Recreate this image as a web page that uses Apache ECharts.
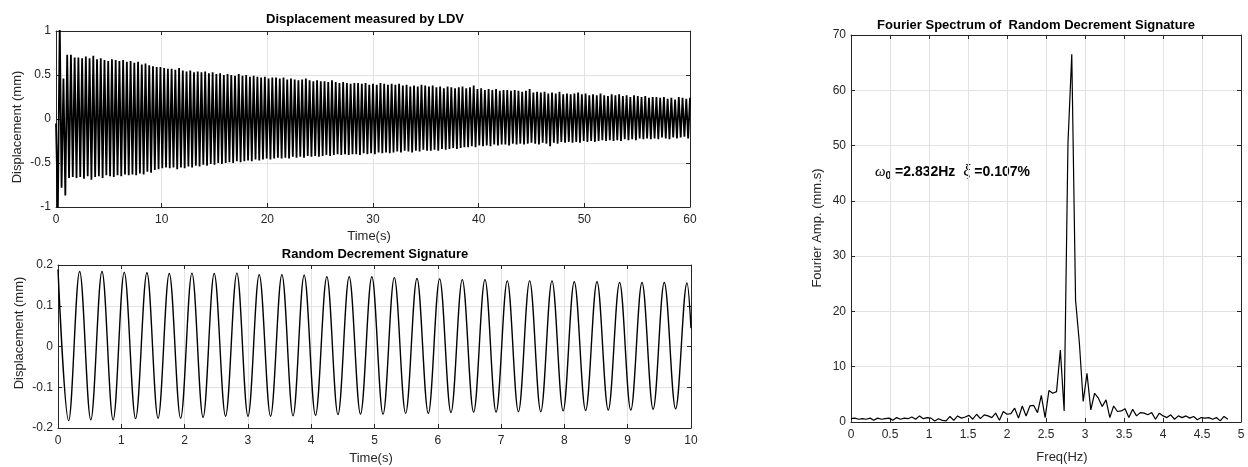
<!DOCTYPE html>
<html><head><meta charset="utf-8">
<script src="https://cdn.jsdelivr.net/npm/echarts@6/dist/echarts.min.js"></script>
<style>html,body{margin:0;padding:0;background:#fff}#c{width:1248px;height:467px}</style>
</head><body><div id="c"></div><script>
// ---------- DATA ----------
// Displacement measured by LDV: per-cycle extrema (peak / trough), 170 cycles over 60 s
const ldvDuration = 60;
const ldvStart = -0.05;
const ldvPeaks = [
  1.10, 0.46, 0.73, 0.73, 0.70, 0.70, 0.69, 0.71, 0.69, 0.72,
  0.68, 0.69, 0.67, 0.66, 0.68, 0.67, 0.66, 0.67, 0.65, 0.66,
  0.64, 0.65, 0.62, 0.63, 0.61, 0.60, 0.59, 0.59, 0.58, 0.57,
  0.57, 0.56, 0.58, 0.55, 0.54, 0.55, 0.53, 0.54, 0.53, 0.54,
  0.52, 0.53, 0.51, 0.52, 0.50, 0.51, 0.50, 0.49, 0.51, 0.49,
  0.50, 0.48, 0.49, 0.48, 0.47, 0.48, 0.46, 0.47, 0.47, 0.46,
  0.47, 0.45, 0.46, 0.45, 0.44, 0.45, 0.46, 0.44, 0.43, 0.44,
  0.43, 0.43, 0.42, 0.44, 0.42, 0.41, 0.42, 0.41, 0.40, 0.41,
  0.41, 0.40, 0.41, 0.39, 0.40, 0.39, 0.41, 0.40, 0.39, 0.40,
  0.39, 0.40, 0.38, 0.39, 0.37, 0.38, 0.37, 0.39, 0.38, 0.37,
  0.38, 0.36, 0.37, 0.35, 0.37, 0.36, 0.35, 0.36, 0.37, 0.35,
  0.36, 0.38, 0.34, 0.35, 0.33, 0.34, 0.33, 0.34, 0.32, 0.33,
  0.33, 0.32, 0.33, 0.32, 0.31, 0.32, 0.34, 0.30, 0.31, 0.30,
  0.31, 0.29, 0.30, 0.29, 0.31, 0.28, 0.29, 0.28, 0.29, 0.30,
  0.28, 0.29, 0.27, 0.28, 0.27, 0.29, 0.27, 0.26, 0.28, 0.27,
  0.28, 0.26, 0.27, 0.25, 0.27, 0.26, 0.25, 0.26, 0.24, 0.25,
  0.25, 0.24, 0.25, 0.23, 0.24, 0.22, 0.25, 0.24, 0.23, 0.24
];
const ldvTroughs = [
  -1.05, -0.78, -0.87, -0.67, -0.66, -0.67, -0.66, -0.68, -0.65, -0.69,
  -0.66, -0.65, -0.67, -0.64, -0.65, -0.66, -0.64, -0.65, -0.63, -0.64,
  -0.63, -0.64, -0.62, -0.63, -0.60, -0.61, -0.58, -0.57, -0.56, -0.55,
  -0.56, -0.55, -0.57, -0.55, -0.56, -0.54, -0.55, -0.53, -0.54, -0.52,
  -0.53, -0.51, -0.52, -0.50, -0.51, -0.50, -0.49, -0.50, -0.48, -0.49,
  -0.48, -0.47, -0.48, -0.46, -0.47, -0.46, -0.45, -0.46, -0.45, -0.44,
  -0.45, -0.44, -0.45, -0.43, -0.44, -0.43, -0.44, -0.42, -0.43, -0.42,
  -0.43, -0.42, -0.41, -0.42, -0.41, -0.40, -0.41, -0.40, -0.41, -0.40,
  -0.40, -0.41, -0.39, -0.40, -0.39, -0.40, -0.38, -0.39, -0.38, -0.39,
  -0.38, -0.37, -0.38, -0.36, -0.37, -0.38, -0.36, -0.37, -0.35, -0.36,
  -0.36, -0.35, -0.36, -0.34, -0.35, -0.34, -0.33, -0.34, -0.33, -0.32,
  -0.32, -0.31, -0.32, -0.30, -0.31, -0.30, -0.31, -0.29, -0.30, -0.29,
  -0.29, -0.30, -0.28, -0.29, -0.28, -0.29, -0.28, -0.27, -0.28, -0.29,
  -0.27, -0.28, -0.31, -0.27, -0.28, -0.26, -0.27, -0.26, -0.27, -0.26,
  -0.27, -0.25, -0.26, -0.25, -0.26, -0.25, -0.24, -0.25, -0.24, -0.25,
  -0.24, -0.25, -0.23, -0.24, -0.23, -0.24, -0.22, -0.23, -0.22, -0.23,
  -0.22, -0.23, -0.21, -0.22, -0.23, -0.21, -0.22, -0.21, -0.20, -0.22
];

// Random Decrement Signature: extrema
const rdsStart = [0, 0.189];
const rdsEnd = [10, 0.045];
const rdsTroughTimes = [0.168,0.518,0.871,1.226,1.581,1.937,2.292,2.647,3.002,3.358,3.713,4.068,4.423,4.779,
  5.135,5.492,5.850,6.208,6.566,6.921,7.274,7.627,7.980,8.335,8.693,9.049,9.402,9.757];
const rdsTroughs = [-0.182,-0.180,-0.180,-0.177,-0.176,-0.176,-0.174,-0.171,-0.171,-0.171,-0.170,-0.169,-0.167,-0.166,
  -0.166,-0.164,-0.164,-0.162,-0.161,-0.161,-0.160,-0.160,-0.158,-0.157,-0.156,-0.156,-0.154,-0.153];
const rdsPeakTimes = [0.342,0.695,1.047,1.405,1.758,2.116,2.468,2.826,3.179,3.537,3.889,4.247,4.600,4.958,
  5.313,5.671,6.029,6.387,6.745,7.098,7.451,7.804,8.156,8.515,8.872,9.226,9.578,9.937];
const rdsPeaks = [0.184,0.184,0.182,0.181,0.179,0.180,0.179,0.180,0.176,0.176,0.175,0.171,0.171,0.171,
  0.169,0.167,0.166,0.164,0.164,0.161,0.161,0.161,0.159,0.159,0.157,0.157,0.157,0.156];

// Fourier spectrum (frequency step in Hz, amplitudes in mm.s)
const specDf = 0.0488;
const specAmp = [
  0.6, 0.7, 0.5, 0.6, 0.5, 0.7, 0.3, 0.7, 0.5, 0.6,
  0.7, 0.3, 0.8, 0.5, 0.7, 0.6, 0.9, 0.5, 1.1, 0.6,
  0.8, 0.7, 0.2, 0.6, 0.3, 0.2, 1.0, 0.3, 1.1, 0.7,
  0.9, 1.2, 0.5, 1.4, 0.6, 1.3, 1.1, 0.8, 1.6, 0.3,
  1.9, 1.4, 1.5, 2.5, 0.7, 2.9, 1.1, 2.9, 3.0, 1.7,
  4.8, 0.8, 5.7, 5.2, 5.5, 13.0, 2.0, 50.4, 66.5, 22.0,
  14.3, 3.7, 8.8, 2.2, 5.2, 4.3, 2.8, 4.0, 0.8, 2.9,
  1.9, 2.0, 2.4, 0.8, 2.3, 1.1, 1.7, 1.6, 1.3, 1.7,
  0.5, 1.6, 1.1, 0.8, 1.3, 0.5, 1.1, 0.8, 1.1, 0.7,
  1.0, 0.4, 0.8, 0.7, 0.8, 0.5, 0.8, 0.2, 1.0, 0.5
];

// axis tick settings
const ldvX = {min: 0, max: 60, interval: 10};
const ldvY = {min: -1, max: 1, interval: 0.5};
const rdsX = {min: 0, max: 10, interval: 1};
const rdsY = {min: -0.2, max: 0.2, interval: 0.1};
const specX = {min: 0, max: 5, interval: 0.5};
const specY = {min: 0, max: 70, interval: 10};

// ---------- BUILD ----------
const ldvData = [[0, ldvStart]];
const hp = ldvDuration / (2 * ldvPeaks.length);
for (let k = 0; k < ldvPeaks.length; k++) {
  ldvData.push([(2 * k + 1) * hp, ldvTroughs[k]]);
  ldvData.push([(2 * k + 2) * hp, ldvPeaks[k]]);
}
const rdsData = [rdsStart];
for (let k = 0; k < rdsPeaks.length; k++) {
  rdsData.push([rdsTroughTimes[k], rdsTroughs[k]]);
  rdsData.push([rdsPeakTimes[k], rdsPeaks[k]]);
}
rdsData.push(rdsEnd);
const specData = specAmp.map((v, i) => [+(i * specDf).toFixed(4), v]);

const FONT = '"Liberation Sans", Arial, Helvetica, sans-serif';
const SERIF = '"Liberation Serif", "DejaVu Serif", serif';
const AX = '#262626';
const GRIDC = '#e2e2e2';

function mainAxis(gi, r, pos) {
  return {
    type: 'value', gridIndex: gi, position: pos, min: r.min, max: r.max, interval: r.interval,
    axisLine: {show: true, onZero: false, lineStyle: {color: AX, width: 1}},
    axisTick: {show: true, inside: true, length: 4, lineStyle: {color: AX}},
    axisLabel: {show: true, color: AX, fontSize: 12, fontFamily: FONT, margin: (pos === 'left') ? 5 : 7},
    splitLine: {show: true, lineStyle: {color: GRIDC, width: 1}}
  };
}
function sideAxis(gi, r, pos) {
  return {
    type: 'value', gridIndex: gi, position: pos, min: r.min, max: r.max, interval: r.interval,
    axisLine: {show: true, onZero: false, lineStyle: {color: AX, width: 1}},
    axisTick: {show: true, inside: true, length: 4, lineStyle: {color: AX}},
    axisLabel: {show: false}, splitLine: {show: false}
  };
}

const grids = [
  {left: 56, top: 31, width: 634, height: 176},
  {left: 58, top: 265, width: 633, height: 163},
  {left: 851, top: 35, width: 390, height: 387}
];

function txt(text, x, y, opt) {
  opt = opt || {};
  return {
    type: 'text', x: x, y: y, rotation: opt.rot || 0, silent: true,
    style: {text: text, fill: opt.color || '#000', align: opt.align || 'center', verticalAlign: 'middle',
      font: opt.font || ('13px ' + FONT), rich: opt.rich}
  };
}

const annotRich = {
  g: {font: 'italic 15px ' + SERIF, fill: '#000', lineHeight: 18, verticalAlign: 'middle'},
  x: {font: 'italic 17px ' + SERIF, fill: '#000', lineHeight: 18, verticalAlign: 'middle'},
  s: {font: 'bold 10px ' + FONT, fill: '#000', lineHeight: 10, verticalAlign: 'bottom'},
  t: {font: 'bold 14px ' + FONT, fill: '#000', lineHeight: 18, verticalAlign: 'middle'}
};

const chart = echarts.init(document.getElementById('c'), null, {renderer: 'canvas'});
chart.setOption({
  animation: false,
  backgroundColor: '#fff',
  grid: grids.map(g => Object.assign({show: false, containLabel: false}, g)),
  xAxis: [
    mainAxis(0, ldvX, 'bottom'), sideAxis(0, ldvX, 'top'),
    mainAxis(1, rdsX, 'bottom'), sideAxis(1, rdsX, 'top'),
    mainAxis(2, specX, 'bottom'), sideAxis(2, specX, 'top')
  ],
  yAxis: [
    mainAxis(0, ldvY, 'left'), sideAxis(0, ldvY, 'right'),
    mainAxis(1, rdsY, 'left'), sideAxis(1, rdsY, 'right'),
    mainAxis(2, specY, 'left'), sideAxis(2, specY, 'right')
  ],
  series: [
    {type: 'line', xAxisIndex: 0, yAxisIndex: 0, data: ldvData, showSymbol: false, clip: true,
      lineStyle: {color: '#000', width: 1.8}},
    {type: 'line', xAxisIndex: 2, yAxisIndex: 2, data: rdsData, showSymbol: false, clip: true, smooth: 0.36,
      lineStyle: {color: '#000', width: 1.4}},
    {type: 'line', xAxisIndex: 4, yAxisIndex: 4, data: specData, showSymbol: false, clip: true,
      lineStyle: {color: '#000', width: 1.2}}
  ],
  graphic: [
    txt('Displacement measured by LDV', 365, 19.5, {font: 'bold 13px ' + FONT}),
    txt('Random Decrement Signature', 375, 254.5, {font: 'bold 13px ' + FONT}),
    txt('Fourier Spectrum of  Random Decrement Signature', 1036, 25, {font: 'bold 13px ' + FONT}),
    txt('Time(s)', 369, 236.5, {font: '13px ' + FONT, color: AX}),
    txt('Time(s)', 371, 458, {font: '13px ' + FONT, color: AX}),
    txt('Freq(Hz)', 1062, 457.5, {font: '13px ' + FONT, color: AX}),
    txt('Displacement (mm)', 17.5, 127, {font: '13px ' + FONT, color: AX, rot: Math.PI / 2}),
    txt('Displacement (mm)', 19, 333, {font: '13px ' + FONT, color: AX, rot: Math.PI / 2}),
    txt('Fourier Amp. (mm.s)', 817, 228, {font: '13px ' + FONT, color: AX, rot: Math.PI / 2}),
    txt('{g|\u03C9}{s|0}{t| =2.832Hz  }{x|\u03BE}{t| =0.107%}', 875, 172,
      {align: 'left', font: 'bold 14px ' + FONT, rich: annotRich})
  ]
});
</script></body></html>
